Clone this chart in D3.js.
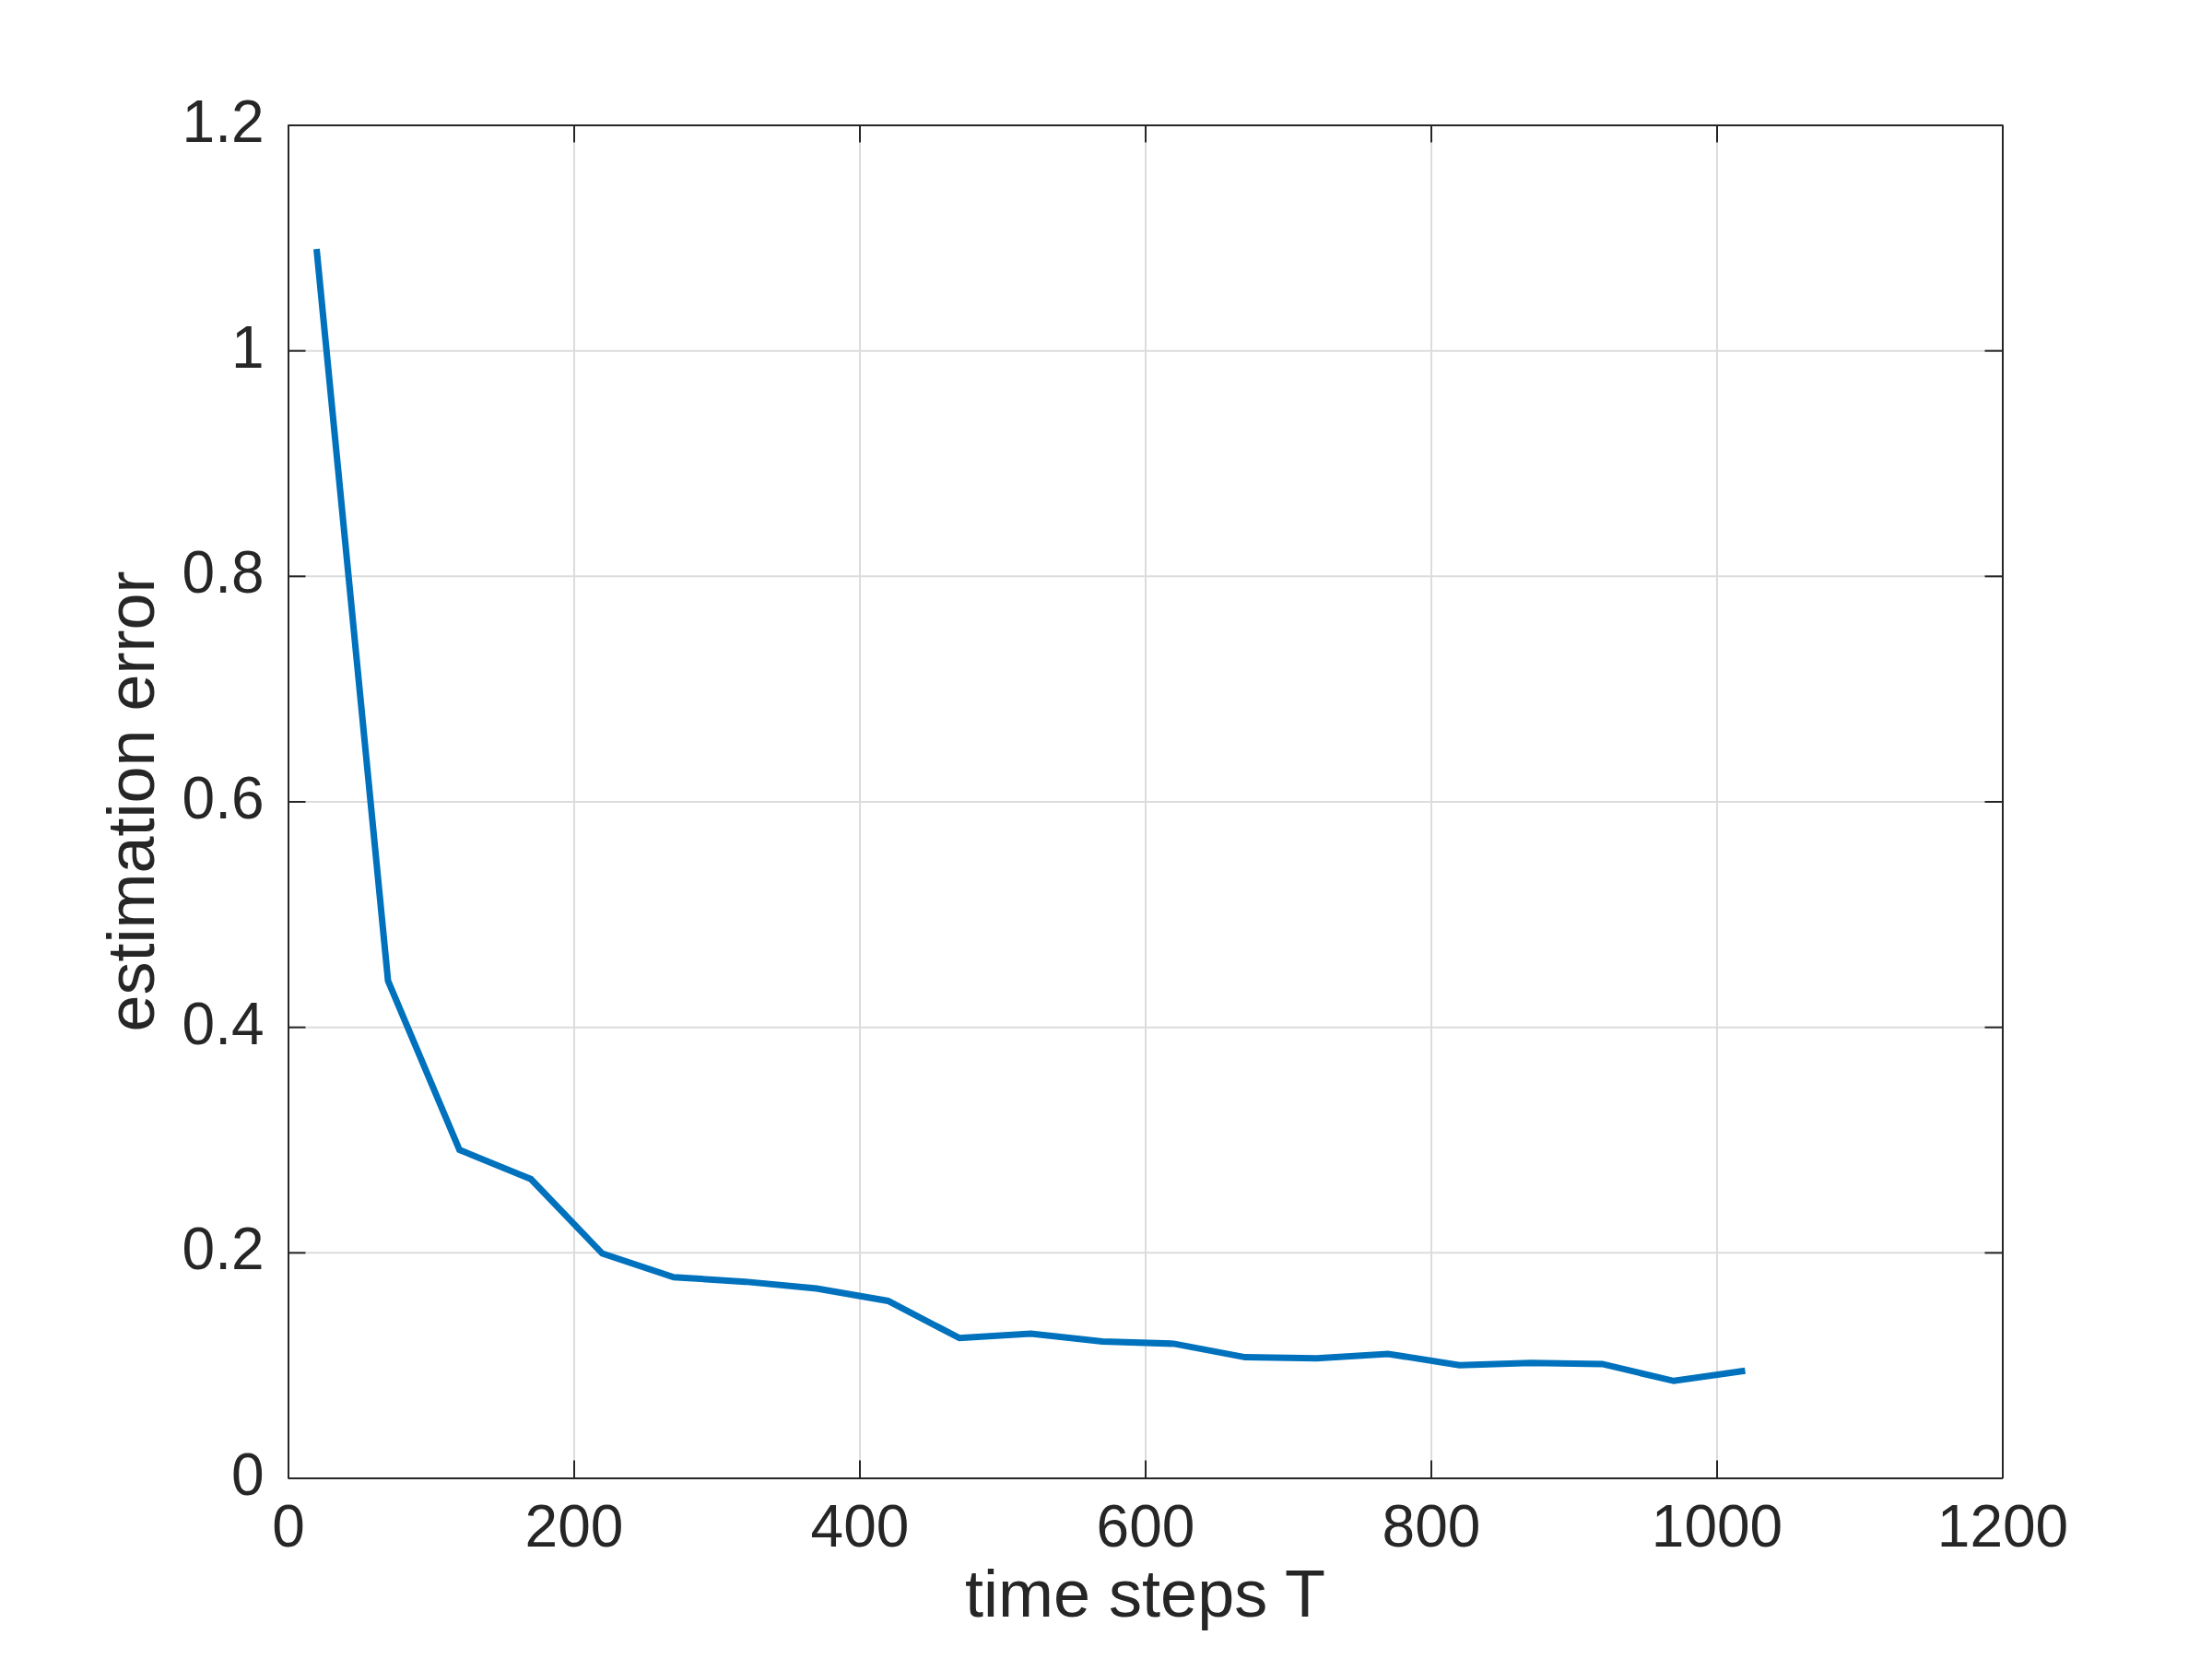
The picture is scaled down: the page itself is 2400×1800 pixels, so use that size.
<!DOCTYPE html>
<html>
<head>
<meta charset="utf-8">
<script src="https://cdn.jsdelivr.net/npm/d3@7"></script>
<style>
  body { margin: 0; background: #fff; }
  .chart text { font-family: "Liberation Sans", Arial, Helvetica, sans-serif; fill: #262626; }
  .grid line { stroke: #dcdcdc; stroke-width: 2; }
  .grid path { display: none; }
  .axis path, .axis line { stroke: #262626; stroke-width: 2; }
</style>
</head>
<body>
<div class="chart"></div>
<script>
const WIDTH = 2400;
const HEIGHT = 1800;
const LEFT = 312.5;
const TOP = 135.5;
const INNER_WIDTH = 1860;
const INNER_HEIGHT = 1468;

// data
var timeSteps = [20, 70, 120, 170, 220, 270, 320, 370, 420, 470, 520, 570, 620, 670, 720, 770, 820, 870, 920, 970, 1020];
var estimationError = [1.09, 0.441, 0.291, 0.265, 0.199, 0.178, 0.174, 0.168, 0.157, 0.124, 0.128, 0.121, 0.119, 0.107, 0.106, 0.110, 0.100, 0.102, 0.101, 0.086, 0.095];
var xTicks = [0, 200, 400, 600, 800, 1000, 1200];
var yTicks = [0, 0.2, 0.4, 0.6, 0.8, 1, 1.2];
var xLabel = 'time steps T';
var yLabel = 'estimation error';

var xScale = d3.scaleLinear().domain([0, 1200]).range([0, INNER_WIDTH]);
var yScale = d3.scaleLinear().domain([0, 1.2]).range([INNER_HEIGHT, 0]);

var svg = d3.select('.chart').append('svg')
    .attr('width', WIDTH)
    .attr('height', HEIGHT);

var g = svg.append('g')
    .attr('transform', 'translate(' + LEFT + ',' + TOP + ')');

function drawGrid() {
    g.append('g').attr('class', 'grid')
        .attr('transform', 'translate(0,' + INNER_HEIGHT + ')')
        .call(d3.axisBottom(xScale).tickValues(xTicks).tickSize(-INNER_HEIGHT).tickFormat(''));
    g.append('g').attr('class', 'grid')
        .call(d3.axisLeft(yScale).tickValues(yTicks).tickSize(-INNER_WIDTH).tickFormat(''));
}

function drawLine() {
    var line = d3.line()
        .x(function (d, i) { return xScale(timeSteps[i]); })
        .y(function (d) { return yScale(d); });
    g.append('path')
        .attr('d', line(estimationError))
        .attr('fill', 'none')
        .attr('stroke', '#0072BD')
        .attr('stroke-width', 7)
        .attr('stroke-linejoin', 'miter');
}

function drawAxes() {
    var bottom = g.append('g').attr('class', 'axis')
        .attr('transform', 'translate(0,' + INNER_HEIGHT + ')')
        .call(d3.axisBottom(xScale).tickValues(xTicks).tickSizeInner(-19).tickSizeOuter(0).tickFormat(d3.format('d')));
    bottom.selectAll('text')
        .attr('y', 74).attr('dy', null)
        .style('font-size', '64px');

    var left = g.append('g').attr('class', 'axis')
        .call(d3.axisLeft(yScale).tickValues(yTicks).tickSizeInner(-19).tickSizeOuter(0).tickFormat(d3.format('~g')));
    left.selectAll('text')
        .attr('x', -26).attr('dy', 18)
        .style('font-size', '64px');

    g.append('g').attr('class', 'axis')
        .call(d3.axisTop(xScale).tickValues(xTicks).tickSizeInner(-19).tickSizeOuter(0).tickFormat(''));
    g.append('g').attr('class', 'axis')
        .attr('transform', 'translate(' + INNER_WIDTH + ',0)')
        .call(d3.axisRight(yScale).tickValues(yTicks).tickSizeInner(-19).tickSizeOuter(0).tickFormat(''));
    g.selectAll('.axis text').attr('fill', '#262626');
}

function drawLabels() {
    g.append('text')
        .attr('x', INNER_WIDTH / 2)
        .attr('y', 1754 - TOP)
        .attr('text-anchor', 'middle')
        .style('font-size', '72px')
        .text(xLabel);
    g.append('text')
        .attr('transform', 'translate(' + (166.7 - LEFT) + ',' + (INNER_HEIGHT / 2) + ') rotate(-90)')
        .attr('text-anchor', 'middle')
        .style('font-size', '72px')
        .text(yLabel);
}

drawGrid();
drawLine();
drawAxes();
drawLabels();
</script>
</body>
</html>
